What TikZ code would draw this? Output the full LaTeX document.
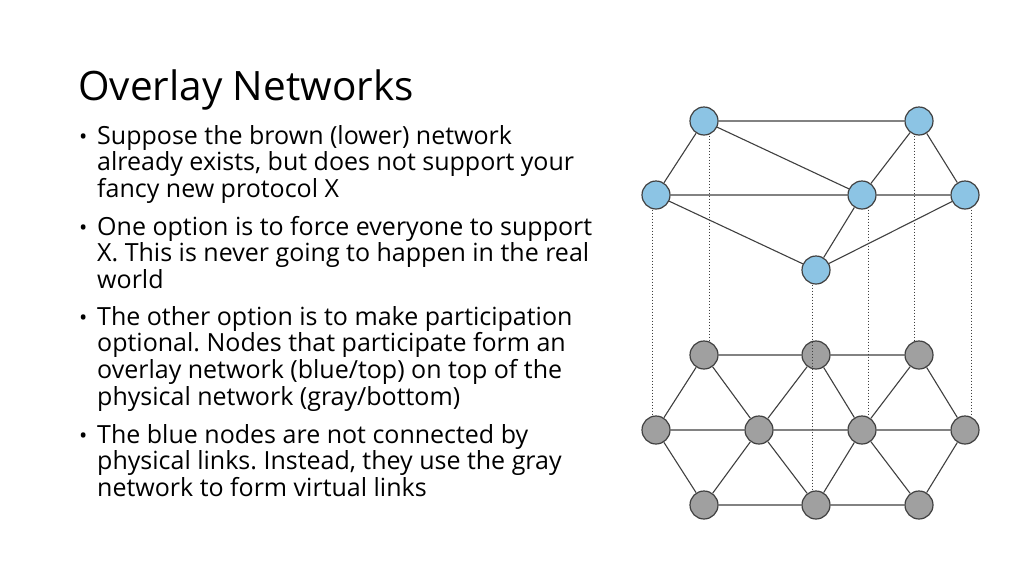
\documentclass[tikz,border=0pt]{standalone}
\usepackage{fontspec}
\setmainfont{Open Sans}
\definecolor{nodeblue}{HTML}{8CC4E4}
\definecolor{nodegray}{HTML}{A0A0A0}
\definecolor{edgecol}{HTML}{404040}
\begin{document}
\frenchspacing
\begin{tikzpicture}[x=1pt,y=-1pt,
  bnode/.style={circle,draw=edgecol,line width=1.2pt,fill=nodeblue,minimum size=28pt,inner sep=0pt},
  gnode/.style={circle,draw=edgecol,line width=1.2pt,fill=nodegray,minimum size=28pt,inner sep=0pt},
  link/.style={draw=edgecol,line width=1.1pt},
  dotline/.style={draw=edgecol,line width=1pt,dash pattern=on 1pt off 2pt},
  txt/.style={anchor=base west,inner sep=0pt,font=\fontsize{25}{30}\selectfont},
  bul/.style={anchor=base west,inner sep=0pt,font=\fontsize{22}{26}\selectfont}
]
\useasboundingbox[fill=white] (0,0) rectangle (1024,576);

% title
\node[anchor=base west,inner sep=0pt,font=\fontsize{40.5}{46}\selectfont] (title) at (78,100) {Overlay Networks};

% bullet 1
\node[bul] (d1) at (79,144) {•};
\node[txt] (l11) at (97,144) {Suppose the brown (lower) network};
\node[txt] (l12) at (97,170.7) {already exists, but does not support your};
\node[txt] (l13) at (97,197.3) {fancy new protocol X};
% bullet 2
\node[bul] (d2) at (79,235) {•};
\node[txt] (l21) at (97,235) {One option is to force everyone to support};
\node[txt] (l22) at (97,261.7) {X. This is never going to happen in the real};
\node[txt] (l23) at (97,288.3) {world};
% bullet 3
\node[bul] (d3) at (79,325) {•};
\node[txt] (l31) at (97,325) {The other option is to make participation};
\node[txt] (l32) at (97,351.7) {optional. Nodes that participate form an};
\node[txt] (l33) at (97,378.3) {overlay network (blue/top) on top of the};
\node[txt] (l34) at (97,405) {physical network (gray/bottom)};
% bullet 4
\node[bul] (d4) at (79,443) {•};
\node[txt] (l41) at (97,443) {The blue nodes are not connected by};
\node[txt] (l42) at (97,469.7) {physical links. Instead, they use the gray};
\node[txt] (l43) at (97,496.3) {network to form virtual links};

% gray (physical) network
\node[gnode] (g11) at (704,355) {};
\node[gnode] (g12) at (816,355) {};
\node[gnode] (g13) at (919,355) {};
\node[gnode] (g21) at (656,430) {};
\node[gnode] (g22) at (759,430) {};
\node[gnode] (g23) at (862,430) {};
\node[gnode] (g24) at (965,430) {};
\node[gnode] (g31) at (704,505) {};
\node[gnode] (g32) at (816,505) {};
\node[gnode] (g33) at (919,505) {};
\path[link] (g11) -- (g12) (g12) -- (g13)
  (g21) -- (g22) (g22) -- (g23) (g23) -- (g24)
  (g31) -- (g32) (g32) -- (g33)
  (g11) -- (g21) (g11) -- (g22) (g12) -- (g22) (g12) -- (g23) (g13) -- (g23) (g13) -- (g24)
  (g31) -- (g21) (g31) -- (g22) (g32) -- (g22) (g32) -- (g23) (g33) -- (g23) (g33) -- (g24);

% blue (overlay) network
\node[bnode] (b1) at (704,121) {};
\node[bnode] (b2) at (919,121) {};
\node[bnode] (b3) at (656,195) {};
\node[bnode] (b4) at (862,195) {};
\node[bnode] (b5) at (965,195) {};
\node[bnode] (b6) at (816,270) {};
\path[link] (b1) -- (b2) (b1) -- (b3) (b1) -- (b4) (b3) -- (b4) (b3) -- (b6)
  (b2) -- (b4) (b2) -- (b5) (b4) -- (b5) (b4) -- (b6) (b5) -- (b6);

% vertical mapping
\path[dotline] ([xshift=5pt]b1.south) -- ([xshift=5pt]g11.north);
\path[dotline] ([xshift=-5pt]b2.south) -- ([xshift=-5pt]g13.north);
\path[dotline] ([xshift=-4pt]b3.south) -- ([xshift=-4pt]g21.north);
\path[dotline] ([xshift=6pt]b4.south) -- ([xshift=6pt]g23.north);
\path[dotline] ([xshift=6pt]b5.south) -- ([xshift=6pt]g24.north);
\path[dotline] ([xshift=-4pt]b6.south) -- ([xshift=-4pt]g32.north);
\end{tikzpicture}
\end{document}
